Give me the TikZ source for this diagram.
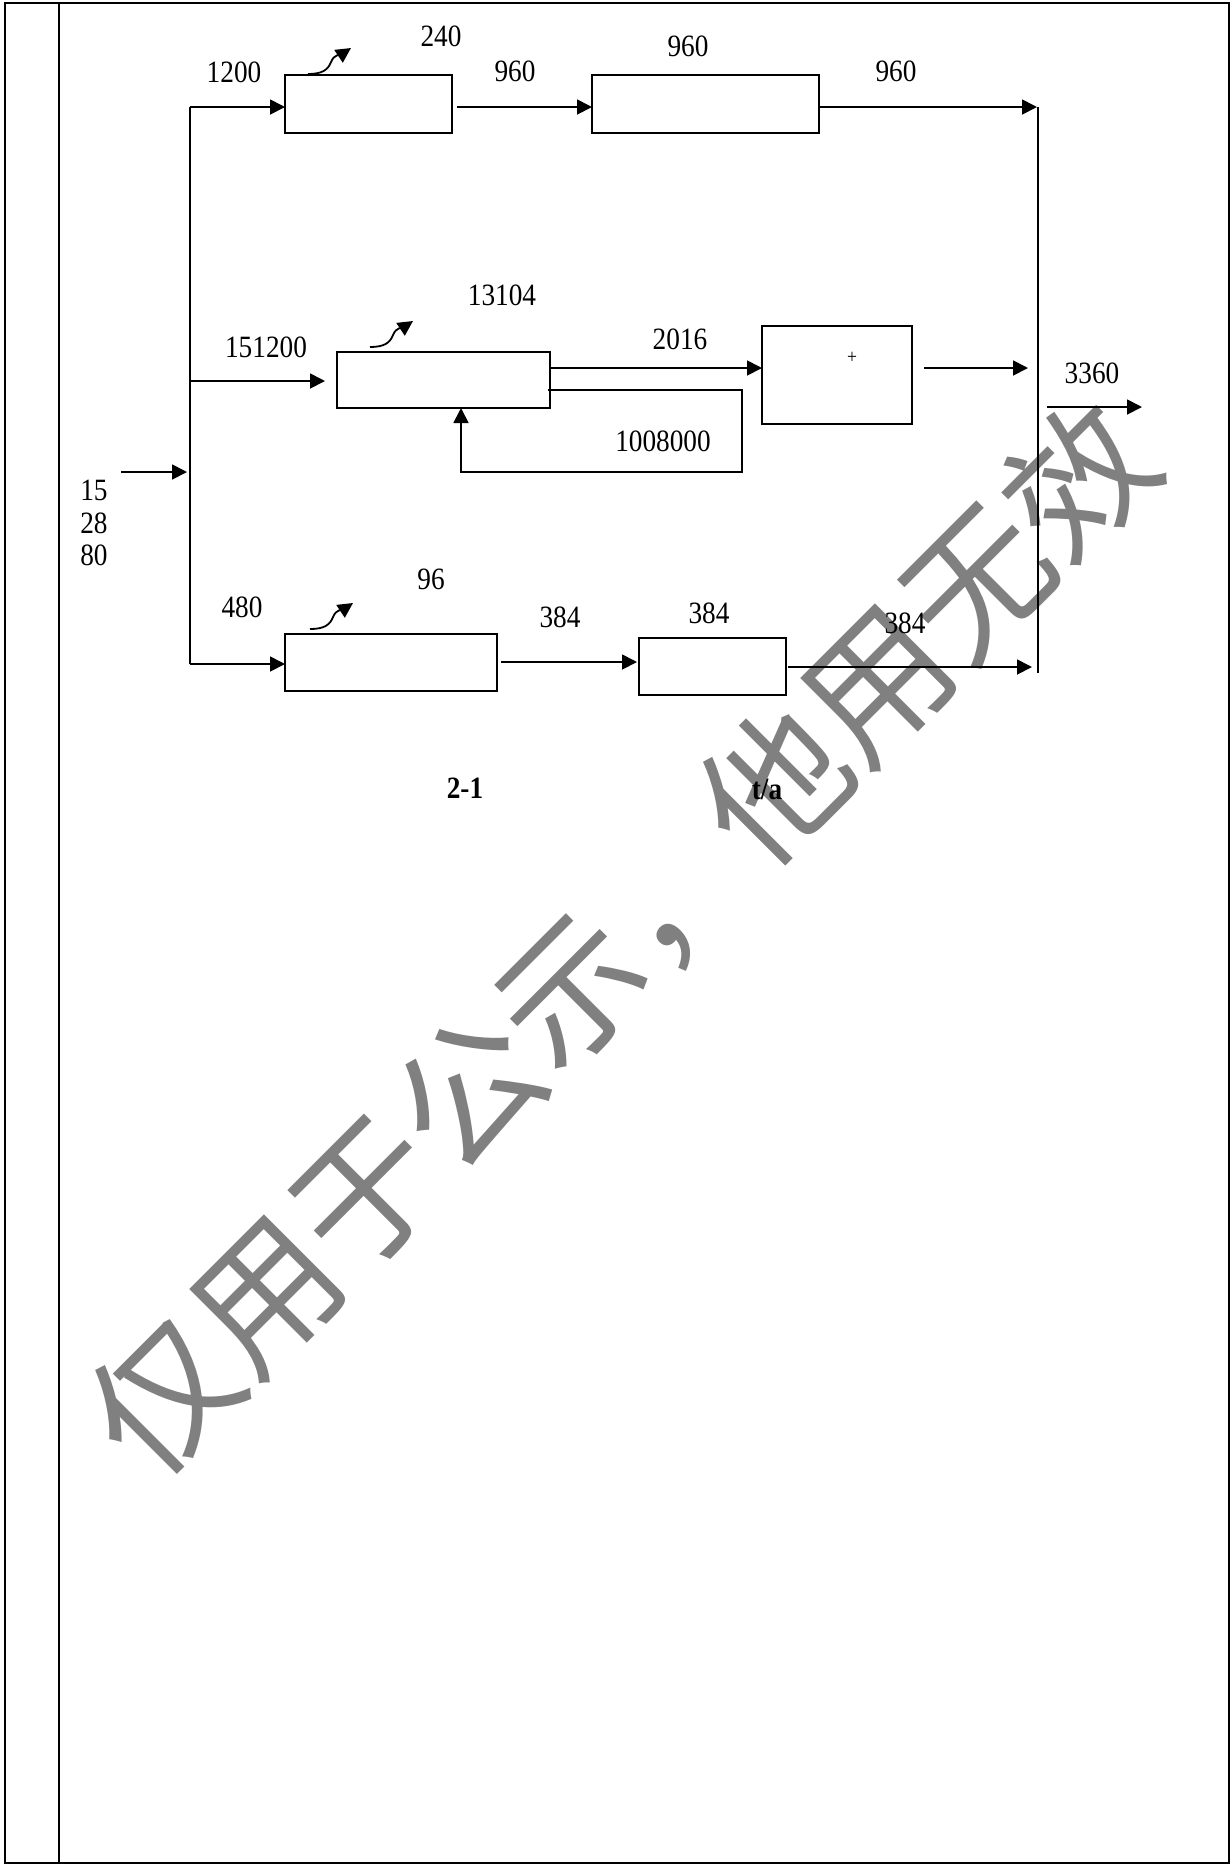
\documentclass[tikz,border=0pt]{standalone}
\usepackage{fontspec}
\setmainfont{Liberation Serif}[FakeStretch=0.88]
\newfontfamily\cjk{Noto Sans CJK SC}
\usetikzlibrary{arrows.meta}
\definecolor{wmgray}{HTML}{808080}
\begin{document}
\begin{tikzpicture}[x=0.5pt,y=-0.5pt,
  ln/.style={line width=0.9pt},
  arr/.style={ln,-{Triangle[length=7.5pt,width=7.5pt]}},
  box/.style={draw,line width=0.9pt,inner sep=0pt,outer sep=0pt},
  lbl/.style={inner sep=0pt,font=\fontsize{15.5}{18}\selectfont},
  blbl/.style={inner sep=0pt,font=\fontsize{15.5}{18}\selectfont\bfseries},
  small/.style={inner sep=0pt,font=\fontsize{10}{12}\selectfont},
  wm/.style={inner sep=0pt,text=wmgray,font=\cjk\fontsize{72}{72}\selectfont}]
\useasboundingbox (0,0) rectangle (1231,1865);
% watermark
\node[wm,rotate=45] (wm) at (622,939) {仅用于公示，他用无效};
% frame
\coordinate (fTL) at (5,3);
\coordinate (fBR) at (1229,1863);
\coordinate (fIT) at (59,3);
\coordinate (fIB) at (59,1863);
\draw[line width=0.7pt] (fTL) rectangle (fBR);
\draw[line width=0.7pt] (fIT) -- (fIB);
% boxes
\node[box,minimum width=83.5pt,minimum height=29pt] (A1) at (368.5,104) {};
\node[box,minimum width=113.5pt,minimum height=29pt] (A2) at (705.5,104) {};
\node[box,minimum width=106.5pt,minimum height=28pt] (B1) at (443.5,380) {};
\node[box,minimum width=75pt,minimum height=49pt] (B2) at (837,375) {};
\node[box,minimum width=106pt,minimum height=28.5pt] (C1) at (391,662.5) {};
\node[box,minimum width=73.5pt,minimum height=28.5pt] (C2) at (712.5,666.5) {};
% junction coordinates
\coordinate (tTop) at (190,107);
\coordinate (tBot) at (190,664);
\coordinate (tMid) at (190,381);
\coordinate (tIn) at (190,472);
\coordinate (rTop) at (1038,107);
\coordinate (rBot) at (1038,673);
\coordinate (yB1o) at (0,368);
\coordinate (L1) at (742,390);
\coordinate (L2) at (742,472);
\coordinate (L3) at (461,472);
\coordinate (b2o) at (1028,368);
\coordinate (o1) at (1047,407);
\coordinate (o2) at (1142,407);
\coordinate (i1) at (121,472);
\coordinate (yC1o) at (0,662);
\coordinate (yC2o) at (0,667);
% trunk and collector
\draw[ln] (tTop) -- (tBot);
\draw[ln] (rTop) -- (rBot);
% top branch
\draw[arr] (tTop) -- (A1.west |- tTop);
\draw[arr] ([xshift=2.5pt]A1.east |- tTop) -- (A2.west |- tTop);
\draw[arr] (A2.east |- tTop) -- ([xshift=-0.5pt]rTop);
% middle branch
\draw[arr] (tMid) -- ([xshift=-6pt]B1.west |- tMid);
\draw[arr] (B1.east |- yB1o) -- (B2.west |- yB1o);
\draw[arr] ([xshift=-1pt]B1.east |- L1) -- (L1) -- (L2) -- (L3) -- (L3 |- B1.south);
\draw[arr] ([xshift=6pt]B2.east |- b2o) -- (b2o);
\draw[arr] (o1) -- (o2);
% input
\draw[arr] (i1) -- ([xshift=-1.5pt]tIn);
% bottom branch
\draw[arr] (tBot) -- (C1.west |- tBot);
\draw[arr] ([xshift=2pt]C1.east |- yC1o) -- ([xshift=-1pt]C2.west |- yC1o);
\draw[arr] ([xshift=1pt]C2.east |- yC2o) -- ([xshift=-3pt]rTop |- yC2o);
% curly arrows
\coordinate (ca1) at (308,74);
\coordinate (ca2) at (370,347);
\coordinate (ca3) at (310,629);
\foreach \c in {ca1,ca2,ca3}{
  \draw[arr] (\c) .. controls +(14,0) and +(-3,8) .. ++(23,-12) .. controls +(3,-8) and +(-9,6) .. ++(20,-14);
}
% labels
\node[lbl] (l1200) at (234,72) {1200};
\node[lbl] (l240) at (441,36) {240};
\node[lbl] (l960a) at (515,71) {960};
\node[lbl] (l960b) at (688,46) {960};
\node[lbl] (l960c) at (896,71) {960};
\node[lbl] (l13104) at (502,295) {13104};
\node[lbl] (l151200) at (266,347) {151200};
\node[lbl] (l2016) at (680,339) {2016};
\node[lbl] (l1008000) at (663,441) {1008000};
\node[small] (lplus) at (852,358) {+};
\node[lbl] (l3360) at (1092,373) {3360};
\node[lbl] (l15) at (94,490) {15};
\node[lbl] (l28) at (94,523) {28};
\node[lbl] (l80) at (94,555) {80};
\node[lbl] (l96) at (431,579) {96};
\node[lbl] (l480) at (242,607) {480};
\node[lbl] (l384a) at (560,617) {384};
\node[lbl] (l384b) at (709,613) {384};
\node[lbl] (l384c) at (905,623) {384};
\node[blbl] (lfig) at (465,788) {2-1};
\node[blbl] (lunit) at (767,789) {t/a};
\end{tikzpicture}
\end{document}
